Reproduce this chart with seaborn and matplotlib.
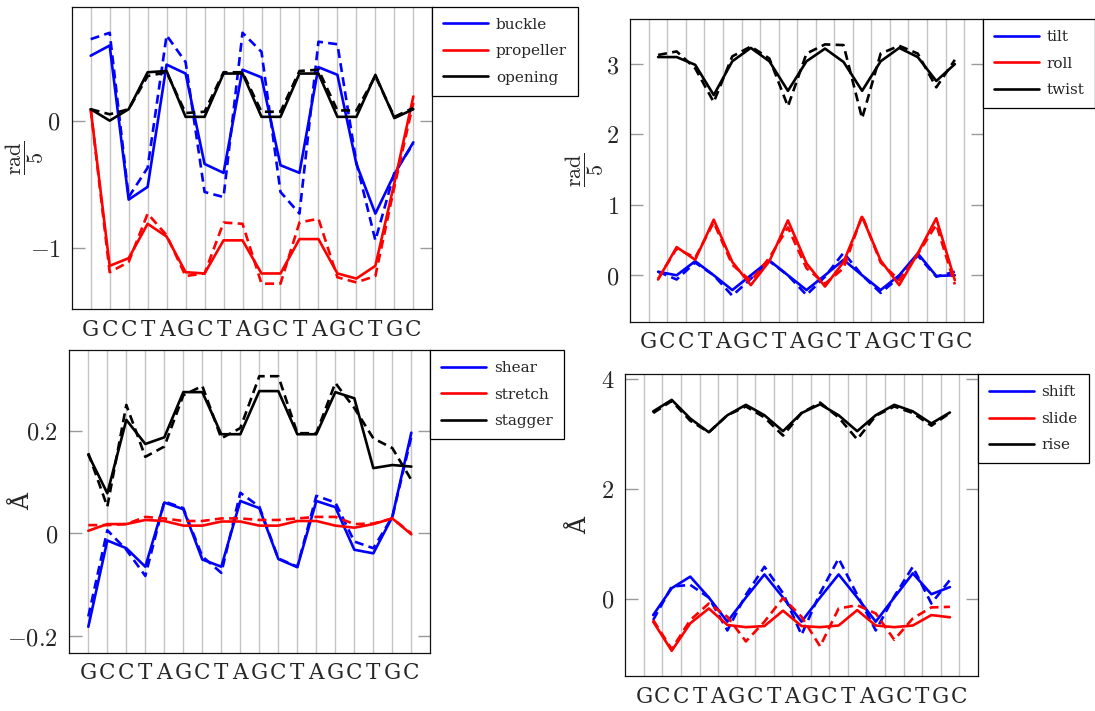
import numpy as np
import matplotlib
matplotlib.use("Agg")
import matplotlib.pyplot as plt
from matplotlib.lines import Line2D
import seaborn as sns

# ---------------------------------------------------------------- data
sequence = list("GCCTAGCTAGCTAGCTGC")

# base-pair parameters (one value per base pair)
buckle_solid = [0.51, 0.59, -0.62, -0.52, 0.44, 0.37, -0.34, -0.41, 0.40, 0.34,
                -0.35, -0.41, 0.42, 0.36, -0.34, -0.73, -0.42, -0.17]
buckle_dashed = [0.64, 0.69, -0.60, -0.37, 0.67, 0.46, -0.56, -0.60, 0.69, 0.54,
                 -0.56, -0.73, 0.62, 0.60, -0.33, -0.94, -0.41, -0.18]
propeller_solid = [0.09, -1.14, -1.08, -0.81, -0.91, -1.19, -1.20, -0.94, -0.94, -1.20,
                   -1.20, -0.93, -0.93, -1.20, -1.24, -1.14, -0.49, 0.19]
propeller_dashed = [0.09, -1.19, -1.11, -0.73, -0.90, -1.22, -1.20, -0.80, -0.81, -1.28,
                    -1.28, -0.80, -0.77, -1.23, -1.27, -1.22, -0.52, 0.14]
opening_solid = [0.09, 0.00, 0.09, 0.38, 0.39, 0.03, 0.03, 0.37, 0.37, 0.03,
                 0.03, 0.37, 0.37, 0.03, 0.03, 0.36, 0.02, 0.09]
opening_dashed = [0.09, 0.05, 0.09, 0.35, 0.38, 0.06, 0.07, 0.38, 0.38, 0.07,
                  0.07, 0.39, 0.40, 0.08, 0.08, 0.35, 0.03, 0.10]

shear_solid = [-0.182, -0.014, -0.029, -0.065, 0.060, 0.047, -0.051, -0.065, 0.063, 0.049,
               -0.050, -0.066, 0.063, 0.051, -0.032, -0.039, 0.032, 0.196]
shear_dashed = [-0.162, 0.006, -0.032, -0.083, 0.062, 0.049, -0.045, -0.077, 0.079, 0.052,
                -0.049, -0.065, 0.073, 0.060, -0.016, -0.029, 0.032, 0.188]
stretch_solid = [0.005, 0.018, 0.018, 0.026, 0.024, 0.015, 0.015, 0.023, 0.023, 0.015,
                 0.015, 0.024, 0.024, 0.015, 0.011, 0.018, 0.029, -0.002]
stretch_dashed = [0.016, 0.016, 0.018, 0.032, 0.029, 0.024, 0.024, 0.029, 0.029, 0.026,
                  0.026, 0.029, 0.032, 0.032, 0.018, 0.019, 0.029, 0.000]
stagger_solid = [0.153, 0.078, 0.221, 0.174, 0.187, 0.275, 0.275, 0.193, 0.193, 0.277,
                 0.277, 0.193, 0.193, 0.275, 0.263, 0.127, 0.133, 0.130]
stagger_dashed = [0.156, 0.052, 0.250, 0.149, 0.169, 0.269, 0.287, 0.185, 0.205, 0.306,
                  0.306, 0.195, 0.195, 0.293, 0.244, 0.185, 0.166, 0.104]

# base-pair step parameters (one value per step between neighbouring pairs)
tilt_solid = [0.05, 0.00, 0.20, 0.00, -0.21, 0.00, 0.21, 0.00, -0.21, 0.00,
              0.22, 0.00, -0.21, 0.00, 0.31, -0.01, 0.00]
tilt_dashed = [0.05, -0.06, 0.18, 0.00, -0.29, -0.05, 0.20, 0.00, -0.28, -0.02,
               0.32, 0.00, -0.25, -0.03, 0.28, -0.02, 0.05]
roll_solid = [-0.06, 0.40, 0.22, 0.79, 0.19, -0.14, 0.20, 0.78, 0.17, -0.16,
              0.19, 0.83, 0.21, -0.14, 0.31, 0.81, -0.07]
roll_dashed = [-0.05, 0.38, 0.25, 0.75, 0.15, -0.08, 0.25, 0.68, 0.10, -0.12,
               0.10, 0.85, 0.18, -0.07, 0.30, 0.72, -0.13]
twist_solid = [3.10, 3.10, 2.99, 2.56, 3.04, 3.23, 3.04, 2.62, 3.04, 3.22,
               3.03, 2.62, 3.04, 3.23, 3.10, 2.76, 3.00]
twist_dashed = [3.13, 3.18, 2.94, 2.46, 3.11, 3.25, 3.08, 2.40, 3.15, 3.28,
                3.27, 2.23, 3.15, 3.26, 3.15, 2.67, 3.06]

shift_solid = [-0.30, 0.19, 0.40, 0.02, -0.42, 0.02, 0.44, 0.02, -0.42, 0.02,
               0.44, 0.02, -0.42, 0.02, 0.46, 0.08, 0.21]
shift_dashed = [-0.39, 0.22, 0.25, 0.02, -0.58, 0.07, 0.58, 0.10, -0.66, 0.10,
                0.73, 0.07, -0.58, 0.04, 0.58, -0.09, 0.34]
slide_solid = [-0.42, -0.95, -0.45, -0.18, -0.48, -0.52, -0.50, -0.22, -0.50, -0.52,
               -0.49, -0.21, -0.49, -0.52, -0.49, -0.30, -0.34]
slide_dashed = [-0.39, -0.92, -0.39, -0.09, -0.33, -0.78, -0.42, 0.01, -0.33, -0.87,
                -0.18, -0.12, -0.27, -0.75, -0.36, -0.16, -0.15]
rise_solid = [3.41, 3.62, 3.28, 3.03, 3.34, 3.53, 3.34, 3.05, 3.38, 3.54,
              3.34, 3.05, 3.34, 3.53, 3.41, 3.19, 3.39]
rise_dashed = [3.38, 3.60, 3.24, 3.03, 3.34, 3.50, 3.30, 2.97, 3.38, 3.57,
               3.30, 2.90, 3.33, 3.50, 3.38, 3.15, 3.38]

yticks_rot_pair = [-1, 0]
yticks_rot_step = [0, 1, 2, 3]
yticks_trans_pair = [-0.2, 0, 0.2]
yticks_trans_step = [0, 2, 4]

# ---------------------------------------------------------------- style
sns.set_style("white")
plt.rcParams.update({
    "mathtext.fontset": "cm",
    "font.family": ["DejaVu Serif"],
    "axes.linewidth": 0.9,
    "axes.edgecolor": "#111111",
})

BLUE, RED, BLACK = "#0000ff", "#ff0000", "#000000"
LW = 1.9
DASH = (3.4, 2.0)

pair_x = np.arange(len(sequence))
step_x = np.arange(len(sequence) - 1) + 0.5

fig = plt.figure(figsize=(10.95, 7.11), dpi=100)


def fmt_num(v):
    return f"${v:g}$"


def draw_panel(rect, x, series, yticks, ylim, ylabel, label_x, label_size):
    ax = fig.add_axes(rect)
    for name, color, solid, dashed in series:
        sns.lineplot(x=x, y=solid, color=color, lw=LW, ax=ax, legend=False)
        sns.lineplot(x=x, y=dashed, color=color, lw=LW, ax=ax, legend=False)
        ax.lines[-1].set_dashes(DASH)
    ax.set_xlim(-1, len(sequence))
    ax.set_ylim(*ylim)
    ax.set_xticks(pair_x)
    ax.set_xticklabels(sequence, fontsize=15.5, family="DejaVu Serif")
    ax.set_yticks(yticks)
    ax.set_yticklabels([fmt_num(v) for v in yticks], fontsize=17.5)
    ax.tick_params(axis="x", length=0, pad=7)
    ax.tick_params(axis="y", direction="in", left=True, right=True,
                   length=9, width=1.0, color="#9a9a9a", pad=8)
    ax.grid(axis="x", color="#c4c4c4", lw=1.0)
    ax.grid(axis="y", visible=False)
    ax.set_axisbelow(True)
    ax.set_xlabel("")
    ax.set_ylabel(ylabel, fontsize=label_size)
    ax.yaxis.label.set_verticalalignment("center")
    ax.yaxis.set_label_coords(label_x, 0.5)
    for sp in ax.spines.values():
        sp.set_visible(True)
    handles = [Line2D([], [], color=c, lw=LW) for _, c, _, _ in series]
    ax.legend(handles, [n for n, _, _, _ in series], loc="upper left",
              bbox_to_anchor=(1.0, 1.0), borderaxespad=0.0, frameon=True,
              fancybox=False, edgecolor="black", framealpha=1.0,
              prop={"family": "DejaVu Serif", "size": 11},
              handlelength=2.95, handletextpad=0.5, labelspacing=0.82,
              borderpad=0.72)
    ax.get_legend().get_frame().set_linewidth(0.9)
    return ax


rad_label = r"$\dfrac{\mathrm{rad}}{5}$"
ang_label = "Å"

draw_panel([0.0655, 0.5654, 0.3293, 0.4252], pair_x,
           [("buckle", BLUE, buckle_solid, buckle_dashed),
            ("propeller", RED, propeller_solid, propeller_dashed),
            ("opening", BLACK, opening_solid, opening_dashed)],
           yticks_rot_pair, (-1.479, 0.895), rad_label, -0.132, 16)

draw_panel([0.5756, 0.5475, 0.3218, 0.4257], step_x,
           [("tilt", BLUE, tilt_solid, tilt_dashed),
            ("roll", RED, roll_solid, roll_dashed),
            ("twist", BLACK, twist_solid, twist_dashed)],
           yticks_rot_step, (-0.66, 3.64), rad_label, -0.13, 16)

draw_panel([0.0633, 0.0820, 0.3297, 0.4257], pair_x,
           [("shear", BLUE, shear_solid, shear_dashed),
            ("stretch", RED, stretch_solid, stretch_dashed),
            ("stagger", BLACK, stagger_solid, stagger_dashed)],
           yticks_trans_pair, (-0.2325, 0.357), ang_label, -0.13, 17)

draw_panel([0.5711, 0.0492, 0.3218, 0.4243], step_x,
           [("shift", BLUE, shift_solid, shift_dashed),
            ("slide", RED, slide_solid, slide_dashed),
            ("rise", BLACK, rise_solid, rise_dashed)],
           yticks_trans_step, (-1.41, 4.085), ang_label, -0.13, 17)

fig.savefig("out.png", dpi=100)
